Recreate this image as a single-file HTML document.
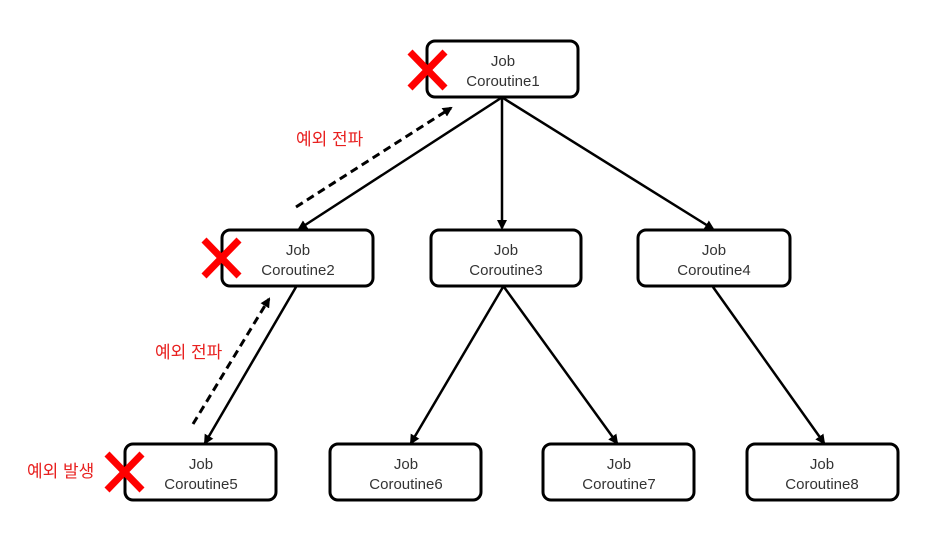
<!DOCTYPE html>
<html><head><meta charset="utf-8"><style>
html,body{margin:0;padding:0;background:#fff;}
svg{display:block;}
text{font-family:"Liberation Sans","Noto Sans CJK KR",sans-serif;}
</style></head><body>
<svg width="952" height="534" viewBox="0 0 952 534" xmlns="http://www.w3.org/2000/svg">
<defs>
<marker id="a" markerWidth="10" markerHeight="10" refX="8" refY="5" orient="auto" markerUnits="userSpaceOnUse">
<path d="M0,0 L10,5 L0,10 z" fill="#000"/></marker>
</defs>
<g stroke="#000" stroke-width="2.5" fill="none" marker-end="url(#a)">
<line x1="501" y1="98" x2="299" y2="229"/>
<line x1="502" y1="98" x2="502" y2="228"/>
<line x1="503" y1="98" x2="713" y2="229"/>
<line x1="296" y1="287" x2="205" y2="443"/>
<line x1="503" y1="287" x2="411" y2="443"/>
<line x1="504" y1="287" x2="617" y2="443"/>
<line x1="713" y1="287" x2="824" y2="443"/>
</g>
<g stroke="#000" stroke-width="3" fill="none" stroke-dasharray="8,5" marker-end="url(#a)">
<line x1="296" y1="207" x2="451" y2="108"/>
<line x1="193" y1="424" x2="269" y2="299"/>
</g>
<g fill="#fff" stroke="#000" stroke-width="3">
<rect x="427" y="41" width="151" height="56" rx="8"/>
<rect x="222" y="230" width="151" height="56" rx="8"/>
<rect x="431" y="230" width="150" height="56" rx="8"/>
<rect x="638" y="230" width="152" height="56" rx="8"/>
<rect x="125" y="444" width="151" height="56" rx="8"/>
<rect x="330" y="444" width="151" height="56" rx="8"/>
<rect x="543" y="444" width="151" height="56" rx="8"/>
<rect x="747" y="444" width="151" height="56" rx="8"/>
</g>
<g font-size="15" fill="#333" text-anchor="middle">
<text x="503" y="66">Job</text><text x="503" y="86">Coroutine1</text>
<text x="298" y="255">Job</text><text x="298" y="275">Coroutine2</text>
<text x="506" y="255">Job</text><text x="506" y="275">Coroutine3</text>
<text x="714" y="255">Job</text><text x="714" y="275">Coroutine4</text>
<text x="201" y="469">Job</text><text x="201" y="489">Coroutine5</text>
<text x="406" y="469">Job</text><text x="406" y="489">Coroutine6</text>
<text x="619" y="469">Job</text><text x="619" y="489">Coroutine7</text>
<text x="822" y="469">Job</text><text x="822" y="489">Coroutine8</text>
</g>
<g stroke="#f00" stroke-width="7">
<line x1="410" y1="52" x2="445" y2="88"/><line x1="445" y1="52" x2="410" y2="88"/>
<line x1="204" y1="240" x2="239" y2="276"/><line x1="239" y1="240" x2="204" y2="276"/>
<line x1="107" y1="454" x2="142" y2="490"/><line x1="142" y1="454" x2="107" y2="490"/>
</g>
<g font-size="17" fill="#e8201f">
<text x="296" y="145">예외 전파</text>
<text x="155" y="358">예외 전파</text>
<text x="27" y="477">예외 발생</text>
</g>
</svg>
</body></html>
